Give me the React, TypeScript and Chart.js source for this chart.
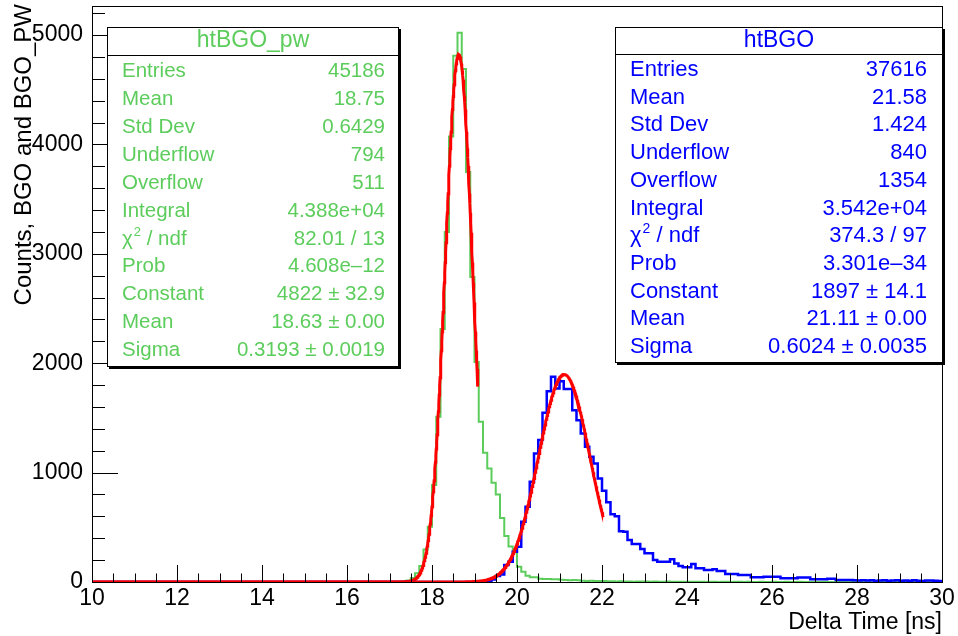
import React, { useEffect, useRef } from 'react';
import { Chart, registerables } from 'chart.js';

Chart.register(...registerables);

// ---- axis settings ----
const X_MIN = 10;
const X_MAX = 30;
const BIN_WIDTH = 0.1;
const Y_MAX = 5265;
const X_TICK_STEP = 2;
const Y_TICK_STEP = 1000;
const xTickValues = [10, 12, 14, 16, 18, 20, 22, 24, 26, 28, 30];
const yTickValues = [0, 1000, 2000, 3000, 4000, 5000];

// ---- htBGO_pw (green), counts per 0.1 ns bin from 10.0 to 30.0 ns ----
const greenCounts = [
  0, 0, 0, 0, 0, 0, 0, 0, 0, 0, // 10
  0, 0, 0, 0, 0, 0, 0, 0, 0, 0, // 11
  0, 0, 0, 0, 0, 0, 0, 0, 0, 0, // 12
  0, 0, 0, 0, 0, 0, 0, 0, 0, 0, // 13
  0, 0, 0, 0, 0, 0, 0, 0, 0, 0, // 14
  0, 0, 0, 0, 0, 0, 0, 0, 0, 0, // 15
  0, 0, 0, 0, 0, 0, 0, 0, 0, 1, // 16
  1, 2, 3, 6, 14, 37, 79, 146, 298, 505, // 17
  886, 1510, 2313, 3199, 4073, 4810, 5020, 4690, 3747, 2788, // 18
  2012, 1464, 1181, 1038, 908, 800, 585, 420, 325, 270, // 19
  140, 94, 58, 43, 43, 30, 27, 27, 24, 25, // 20
  20, 18, 17, 18, 15, 12, 10, 11, 9, 8, // 21
  8, 6, 7, 5, 6, 4, 5, 3, 4, 5, // 22
  4, 3, 5, 3, 2, 4, 3, 2, 3, 2, // 23
  3, 2, 2, 3, 1, 2, 2, 1, 3, 2, // 24
  1, 2, 2, 1, 2, 1, 1, 2, 1, 1, // 25
  2, 1, 1, 2, 1, 1, 2, 1, 1, 1, // 26
  1, 1, 2, 1, 1, 1, 1, 2, 1, 1, // 27
  1, 1, 1, 2, 1, 1, 1, 1, 1, 2, // 28
  1, 1, 1, 1, 2, 1, 1, 1, 1, 1, // 29
];

// ---- htBGO (blue), counts per 0.1 ns bin from 10.0 to 30.0 ns ----
const blueCounts = [
  0, 0, 0, 0, 0, 0, 0, 0, 0, 0, // 10
  0, 0, 0, 0, 0, 0, 0, 0, 0, 0, // 11
  0, 0, 0, 0, 0, 0, 0, 0, 0, 0, // 12
  0, 0, 0, 0, 0, 0, 0, 0, 0, 0, // 13
  0, 0, 0, 0, 0, 0, 0, 0, 0, 0, // 14
  0, 0, 0, 0, 0, 0, 0, 0, 0, 0, // 15
  0, 0, 0, 0, 0, 0, 0, 0, 0, 0, // 16
  0, 0, 0, 0, 0, 0, 0, 0, 0, 0, // 17
  0, 0, 0, 0, 0, 0, 0, 0, 0, 0, // 18
  0, 1, 3, 8, 22, 55, 68, 155, 185, 277, // 19
  322, 551, 688, 916, 1175, 1297, 1546, 1744, 1875, 1769, // 20
  1836, 1763, 1763, 1571, 1479, 1358, 1236, 1144, 1084, 947, // 21
  834, 728, 620, 600, 465, 460, 384, 347, 347, 301, // 22
  262, 262, 201, 186, 186, 186, 207, 170, 146, 134, // 23
  134, 164, 125, 125, 110, 110, 116, 100, 100, 73, // 24
  73, 73, 64, 64, 64, 43, 43, 43, 49, 49, // 25
  49, 49, 34, 34, 34, 34, 40, 40, 40, 25, // 26
  25, 25, 25, 30, 30, 18, 18, 18, 18, 15, // 27
  14, 16, 13, 15, 12, 14, 16, 12, 13, 15, // 28
  12, 14, 11, 15, 12, 10, 13, 14, 11, 10, // 29
];

// ---- Gaussian fit results (as printed in the stat boxes) ----
const greenFit = { constant: 4822, mean: 18.63, sigma: 0.3193, from: 10, to: 19.08 };
const blueFit = { constant: 1897, mean: 21.11, sigma: 0.6024, from: 10, to: 22.03 };

// ---- stat boxes ----
const statLabels = ['Entries', 'Mean', 'Std Dev', 'Underflow', 'Overflow', 'Integral', 'χ2 / ndf', 'Prob', 'Constant', 'Mean', 'Sigma'];
const greenStatValues = ['45186', '18.75', '0.6429', '794', '511', '4.388e+04', '82.01 / 13', '4.608e–12', '4822 ± 32.9', '18.63 ± 0.00', '0.3193 ± 0.0019'];
const blueStatValues = ['37616', '21.58', '1.424', '840', '1354', '3.542e+04', '374.3 / 97', '3.301e–34', '1897 ± 14.1', '21.11 ± 0.00', '0.6024 ± 0.0035'];

const GREEN = '#5ccd5c';
const BLUE = '#0000ff';
const RED = '#ff0000';
const FONT = '"Liberation Sans", Arial, Helvetica, sans-serif';

function histPoints(counts: number[]) {
  const pts = counts.map((v, i) => ({ x: X_MIN + i * BIN_WIDTH, y: v }));
  pts.push({ x: X_MAX, y: counts[counts.length - 1] });
  return pts;
}

function fitPoints(f: { constant: number; mean: number; sigma: number; from: number; to: number }) {
  const pts: { x: number; y: number }[] = [];
  const n = Math.round((f.to - f.from) / 0.01);
  for (let i = 0; i <= n; i++) {
    const x = f.from + ((f.to - f.from) * i) / n;
    const z = (x - f.mean) / f.sigma;
    pts.push({ x, y: f.constant * Math.exp(-0.5 * z * z) });
  }
  return pts;
}

type Box = {
  left: number; top: number; right: number; bottom: number; header: number;
  titleY: number; textLeft: number; textRight: number; row0: number; rowStep: number;
  font: number; titleFont: number;
};

function drawStatBox(ctx: CanvasRenderingContext2D, b: Box, color: string, title: string, values: string[]) {
  ctx.save();
  const w = b.right - b.left;
  const h = b.bottom - b.top;
  ctx.fillStyle = '#000';
  ctx.fillRect(b.left + 2, b.top + 2, w, h);
  ctx.fillStyle = '#fff';
  ctx.fillRect(b.left, b.top, w, h);
  ctx.strokeStyle = '#000';
  ctx.lineWidth = 1;
  ctx.strokeRect(b.left + 0.5, b.top + 0.5, w - 1, h - 1);
  ctx.beginPath();
  ctx.moveTo(b.left, b.header + 0.5);
  ctx.lineTo(b.right, b.header + 0.5);
  ctx.stroke();

  ctx.fillStyle = color;
  ctx.textBaseline = 'middle';
  ctx.font = `${b.titleFont}px ${FONT}`;
  ctx.textAlign = 'center';
  ctx.fillText(title, (b.left + b.right) / 2, b.titleY);

  ctx.font = `${b.font}px ${FONT}`;
  statLabels.forEach((lab, i) => {
    const y = b.row0 + i * b.rowStep;
    ctx.textAlign = 'left';
    if (lab.startsWith('χ2')) {
      ctx.font = `${b.font}px ${FONT}`;
      ctx.fillText('χ', b.textLeft, y);
      const wc = ctx.measureText('χ').width;
      ctx.font = `${Math.round(b.font * 0.65)}px ${FONT}`;
      ctx.fillText('2', b.textLeft + wc + 1, y - b.font * 0.32);
      const w2 = ctx.measureText('2').width;
      ctx.font = `${b.font}px ${FONT}`;
      ctx.fillText(' / ndf', b.textLeft + wc + 1 + w2, y);
    } else {
      ctx.fillText(lab, b.textLeft, y);
    }
    ctx.textAlign = 'right';
    ctx.fillText(values[i], b.textRight, y);
  });
  ctx.restore();
}

const decorPlugin = {
  id: 'rootDecor',
  afterDatasetsDraw(chart: any) {
    const { ctx, chartArea: a, scales } = chart;
    const xs = scales.x;
    const ys = scales.y;
    ctx.save();
    ctx.strokeStyle = '#000';
    ctx.lineWidth = 1;
    // frame
    ctx.strokeRect(Math.round(a.left) + 0.5, Math.round(a.top) + 0.5, Math.round(a.right - a.left), Math.round(a.bottom - a.top));
    ctx.beginPath();
    // x ticks (inside, upward)
    for (let v = X_MIN; v <= X_MAX + 1e-9; v += 0.5) {
      const px = Math.round(xs.getPixelForValue(v)) + 0.5;
      const major = Math.abs(v / X_TICK_STEP - Math.round(v / X_TICK_STEP)) < 1e-6;
      const len = major ? 17 : 8.5;
      ctx.moveTo(px, a.bottom);
      ctx.lineTo(px, a.bottom - len);
    }
    // y ticks (inside, rightward)
    for (let v = 0; v <= Y_MAX; v += 200) {
      const py = Math.round(ys.getPixelForValue(v)) + 0.5;
      const major = v % Y_TICK_STEP === 0;
      const len = major ? 26 : 13;
      ctx.moveTo(a.left, py);
      ctx.lineTo(a.left + len, py);
    }
    ctx.stroke();
    ctx.restore();
  },
  afterDraw(chart: any) {
    const { ctx, chartArea: a } = chart;
    ctx.save();
    ctx.fillStyle = '#000';
    ctx.font = `23px ${FONT}`;
    ctx.textAlign = 'right';
    ctx.textBaseline = 'alphabetic';
    ctx.fillText('Delta Time [ns]', a.right, 629);
    ctx.font = `24px ${FONT}`;
    ctx.translate(31, 4);
    ctx.rotate(-Math.PI / 2);
    ctx.fillText('Counts, BGO and BGO_PW', 0, 0);
    ctx.restore();

    drawStatBox(ctx, {
      left: 107, top: 27, right: 399, bottom: 367, header: 55, titleY: 41,
      textLeft: 122, textRight: 385, row0: 71.5, rowStep: 27.9, font: 20.5, titleFont: 23,
    }, GREEN, 'htBGO_pw', greenStatValues);
    drawStatBox(ctx, {
      left: 615, top: 27, right: 943, bottom: 363, header: 54, titleY: 41,
      textLeft: 630, textRight: 927, row0: 70, rowStep: 27.7, font: 22, titleFont: 23,
    }, BLUE, 'htBGO', blueStatValues);
  },
};

export default function App() {
  const ref = useRef<HTMLCanvasElement | null>(null);
  useEffect(() => {
    if (!ref.current) return;
    const chart = new Chart(ref.current, {
      type: 'line',
      data: {
        datasets: [
          { label: 'htBGO_pw', data: histPoints(greenCounts), borderColor: GREEN, borderWidth: 2, stepped: 'before', pointRadius: 0, fill: false, order: 4 } as any,
          { label: 'fit pw', data: fitPoints(greenFit), borderColor: RED, borderWidth: 3, pointRadius: 0, fill: false, tension: 0, order: 3 } as any,
          { label: 'htBGO', data: histPoints(blueCounts), borderColor: BLUE, borderWidth: 2.5, stepped: 'before', pointRadius: 0, fill: false, order: 2 } as any,
          { label: 'fit', data: fitPoints(blueFit), borderColor: RED, borderWidth: 3, pointRadius: 0, fill: false, tension: 0, order: 1 } as any,
        ],
      },
      options: {
        responsive: false,
        animation: false,
        events: [],
        layout: { padding: { left: 0, right: 16, top: 6, bottom: 0 } },
        plugins: { legend: { display: false }, tooltip: { enabled: false } },
        scales: {
          x: {
            type: 'linear', min: X_MIN, max: X_MAX,
            grid: { display: false, drawTicks: false },
            border: { display: false },
            afterBuildTicks: (s: any) => { s.ticks = xTickValues.map((v) => ({ value: v })); },
            ticks: { color: '#000', font: { family: FONT, size: 23, lineHeight: 1 }, padding: 5, maxRotation: 0, autoSkip: false, callback: (v: any) => String(v) },
            afterFit: (s: any) => { s.height = 54; s.paddingLeft = 0; s.paddingRight = 0; },
          },
          y: {
            type: 'linear', min: 0, max: Y_MAX,
            grid: { display: false, drawTicks: false },
            border: { display: false },
            afterBuildTicks: (s: any) => { s.ticks = yTickValues.map((v) => ({ value: v })); },
            ticks: { color: '#000', font: { family: FONT, size: 23, lineHeight: 1 }, padding: 9, autoSkip: false, callback: (v: any) => String(v) },
            afterFit: (s: any) => { s.width = 92; s.paddingTop = 0; s.paddingBottom = 0; },
          },
        },
      } as any,
      plugins: [decorPlugin],
    });
    return () => chart.destroy();
  }, []);
  return (
    <div style={{ position: 'fixed', left: 0, top: 0, width: 958, height: 636, background: '#fff' }}>
      <canvas ref={ref} width={958} height={636} style={{ display: 'block', width: 958, height: 636 }} />
    </div>
  );
}
